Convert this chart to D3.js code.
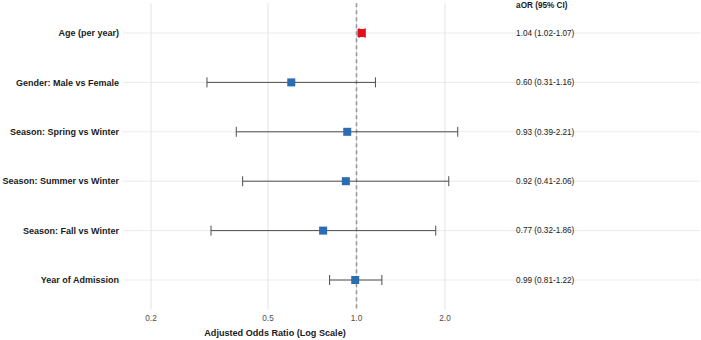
<!DOCTYPE html>
<html><head><meta charset="utf-8">
<script src="https://cdn.jsdelivr.net/npm/d3@7"></script>
<style>body{margin:0;background:#fff;}svg{display:block;font-family:"Liberation Sans",Arial,Helvetica,sans-serif;}</style>
</head><body>
<script>
const categories = ["Age (per year)","Gender: Male vs Female","Season: Spring vs Winter","Season: Summer vs Winter","Season: Fall vs Winter","Year of Admission"];
const estimates = [1.04, 0.60, 0.93, 0.92, 0.77, 0.99];
const lowerCI = [1.02, 0.31, 0.39, 0.41, 0.32, 0.81];
const upperCI = [1.07, 1.16, 2.21, 2.06, 1.86, 1.22];
const significant = [true, false, false, false, false, false];
const tickValues = [0.2, 0.5, 1.0, 2.0];
const tickLabels = ["0.2","0.5","1.0","2.0"];

const W = 701, H = 340;
const svg = d3.select("body").append("svg").attr("width", W).attr("height", H);

const x = d3.scaleLog().domain([0.2, 2.0]).range([151, 445]);
const y = d3.scalePoint().domain(categories).range([33, 280]);
const step = y.step();
const panelL = 123, panelR = 700;
const panelT = y(categories[0]) - step * 0.6, panelB = y(categories[categories.length-1]) + step * 0.6;
const textX = x(3.49);
const fmt = d3.format(".2f");

// horizontal grid
svg.append("g").selectAll("line").data(categories).join("line")
  .attr("x1", panelL).attr("x2", panelR)
  .attr("y1", d => y(d)).attr("y2", d => y(d))
  .attr("stroke", "#ebebeb").attr("stroke-width", 1);
// vertical grid
svg.append("g").selectAll("line").data(tickValues).join("line")
  .attr("x1", d => x(d)).attr("x2", d => x(d))
  .attr("y1", panelT).attr("y2", panelB)
  .attr("stroke", "#e3e3e3").attr("stroke-width", 1);

// reference line
svg.append("line").attr("x1", x(1)).attr("x2", x(1)).attr("y1", panelT).attr("y2", panelB)
  .attr("stroke", "#9a9a9a").attr("stroke-width", 1.6).attr("stroke-dasharray", "4,3");

const rows = categories.map((c, i) => ({c, est: estimates[i], lo: lowerCI[i], hi: upperCI[i], sig: significant[i]}));
const col = d => d.sig ? "#e3101c" : "#4d4d4d";
const g = svg.append("g");
const capH = 5;
g.selectAll(".bar").data(rows).join("line")
  .attr("x1", d => x(d.lo)).attr("x2", d => x(d.hi))
  .attr("y1", d => y(d.c)).attr("y2", d => y(d.c))
  .attr("stroke", col).attr("stroke-width", 1);
g.selectAll(".capl").data(rows).join("line")
  .attr("x1", d => x(d.lo)).attr("x2", d => x(d.lo))
  .attr("y1", d => y(d.c) - capH).attr("y2", d => y(d.c) + capH)
  .attr("stroke", col).attr("stroke-width", 1);
g.selectAll(".caph").data(rows).join("line")
  .attr("x1", d => x(d.hi)).attr("x2", d => x(d.hi))
  .attr("y1", d => y(d.c) - capH).attr("y2", d => y(d.c) + capH)
  .attr("stroke", col).attr("stroke-width", 1);
const sq = 8;
g.selectAll("rect").data(rows).join("rect")
  .attr("x", d => x(d.est) - sq/2).attr("y", d => y(d.c) - sq/2)
  .attr("width", sq).attr("height", sq)
  .attr("fill", d => d.sig ? "#e3101c" : "#2b6cb3");

// y labels
svg.append("g").selectAll("text").data(categories).join("text")
  .attr("x", 119).attr("y", d => y(d)).attr("dy", "0.35em")
  .attr("text-anchor", "end").attr("font-size", 9).attr("font-weight", "bold").attr("fill", "#1a1a1a")
  .text(d => d);

// x tick labels
svg.append("g").selectAll("text").data(tickValues).join("text")
  .attr("x", d => x(d)).attr("y", 318).attr("dy", "0.35em")
  .attr("text-anchor", "middle").attr("font-size", 8.2).attr("fill", "#4d4d4d")
  .text((d, i) => tickLabels[i]);

// x title
svg.append("text").attr("x", 275).attr("y", 333).attr("dy", "0.35em")
  .attr("text-anchor", "middle").attr("font-size", 9.1).attr("font-weight", "bold").attr("fill", "#1a1a1a")
  .text("Adjusted Odds Ratio (Log Scale)");

// table
svg.append("text").attr("x", textX).attr("y", 5).attr("dy", "0.35em")
  .attr("font-size", 8.2).attr("font-weight", "bold").attr("fill", "#1a1a1a").text("aOR (95% CI)");
svg.append("g").selectAll("text").data(rows).join("text")
  .attr("x", textX).attr("y", d => y(d.c)).attr("dy", "0.35em")
  .attr("font-size", 8.2).attr("fill", "#1a1a1a")
  .text(d => `${fmt(d.est)} (${fmt(d.lo)}-${fmt(d.hi)})`);
</script>
</body></html>
